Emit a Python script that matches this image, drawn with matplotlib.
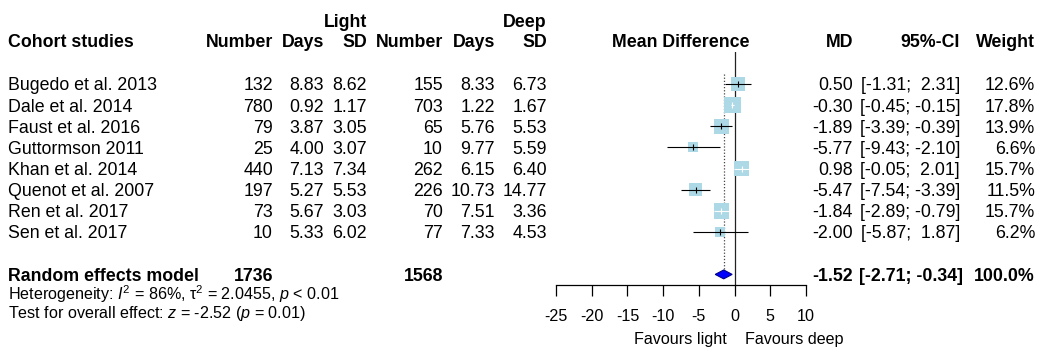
import matplotlib
matplotlib.use("Agg")
import matplotlib.pyplot as plt
import numpy as np

plt.rcParams['font.family'] = ['Liberation Sans', 'DejaVu Sans']
plt.rcParams['mathtext.fontset'] = 'custom'
plt.rcParams['mathtext.rm'] = 'Liberation Sans'
plt.rcParams['mathtext.it'] = 'Liberation Sans:italic'
plt.rcParams['mathtext.bf'] = 'Liberation Sans:bold'

# ---------------- data ----------------
studies = ["Bugedo et al. 2013", "Dale et al. 2014", "Faust et al. 2016", "Guttormson 2011",
           "Khan et al. 2014", "Quenot et al. 2007", "Ren et al. 2017", "Sen et al. 2017"]
light_n = [132, 780, 79, 25, 440, 197, 73, 10]
light_days = [8.83, 0.92, 3.87, 4.00, 7.13, 5.27, 5.67, 5.33]
light_sd = [8.62, 1.17, 3.05, 3.07, 7.34, 5.53, 3.03, 6.02]
deep_n = [155, 703, 65, 10, 262, 226, 70, 77]
deep_days = [8.33, 1.22, 5.76, 9.77, 6.15, 10.73, 7.51, 7.33]
deep_sd = [6.73, 1.67, 5.53, 5.59, 6.40, 14.77, 3.36, 4.53]
md = [0.50, -0.30, -1.89, -5.77, 0.98, -5.47, -1.84, -2.00]
ci_lo = [-1.31, -0.45, -3.39, -9.43, -0.05, -7.54, -2.89, -5.87]
ci_hi = [2.31, -0.15, -0.39, -2.10, 2.01, -3.39, -0.79, 1.87]
weight = [12.6, 17.8, 13.9, 6.6, 15.7, 11.5, 15.7, 6.2]
total_light = 1736
total_deep = 1568
re_md = -1.52
re_lo = -2.71
re_hi = -0.34
re_weight = "100.0%"
x_ticks = [-25, -20, -15, -10, -5, 0, 5, 10]
heterogeneity = r"Heterogeneity: $I^2$ = 86%, τ$^2$ = 2.0455, $p$ < 0.01"
overall = r"Test for overall effect: $z$ = -2.52 ($p$ = 0.01)"

# ---------------- layout ----------------
W, H = 1039, 347
fig = plt.figure(figsize=(W / 100, H / 100), dpi=100)
FS = 12.8
FS2 = 11.6

def T(x, y, s, ha='left', bold=False, size=FS):
    # y is the baseline position in pixels from the top
    fig.text(x / W, 1 - y / H, s, ha=ha, va='baseline', fontsize=size,
             fontweight='bold' if bold else 'normal', color='black')

row0, dy = 84.0, 21.14
def rowy(i):
    return row0 + dy * i
BL = 6.4  # baseline offset from row centre

# headers
T(367, 27, "Light", ha='right', bold=True)
T(547, 27, "Deep", ha='right', bold=True)
hy = 47
T(8, hy, "Cohort studies", bold=True)
T(273, hy, "Number", ha='right', bold=True)
T(324, hy, "Days", ha='right', bold=True)
T(367, hy, "SD", ha='right', bold=True)
T(443, hy, "Number", ha='right', bold=True)
T(495, hy, "Days", ha='right', bold=True)
T(547, hy, "SD", ha='right', bold=True)
T(681, hy, "Mean Difference", ha='center', bold=True)
T(853, hy, "MD", ha='right', bold=True)
T(960, hy, "95%-CI", ha='right', bold=True)
T(1035, hy, "Weight", ha='right', bold=True)

def ci_str(lo, hi):
    return "[" + f"{lo:5.2f}" + "; " + f"{hi:5.2f}" + "]"

for i, name in enumerate(studies):
    y = rowy(i) + BL
    T(8, y, name)
    T(273, y, f"{light_n[i]}", ha='right')
    T(324, y, f"{light_days[i]:.2f}", ha='right')
    T(367, y, f"{light_sd[i]:.2f}", ha='right')
    T(443, y, f"{deep_n[i]}", ha='right')
    T(495, y, f"{deep_days[i]:.2f}", ha='right')
    T(547, y, f"{deep_sd[i]:.2f}", ha='right')
    T(853, y, f"{md[i]:.2f}", ha='right')
    T(960, y, ci_str(ci_lo[i], ci_hi[i]), ha='right')
    T(1035, y, f"{weight[i]:.1f}%", ha='right')

sy = rowy(9) + BL
T(8, sy, "Random effects model", bold=True)
T(273, sy, f"{total_light}", ha='right', bold=True)
T(443, sy, f"{total_deep}", ha='right', bold=True)
T(853, sy, f"{re_md:.2f}", ha='right', bold=True)
T(963, sy, ci_str(re_lo, re_hi), ha='right', bold=True)
T(1035, sy, re_weight, ha='right', bold=True)
T(8, 300, heterogeneity, size=FS2)
T(8, 318, overall, size=FS2)

# ---------------- forest axes ----------------
ax_l, ax_r = 556, 806
ax_top, ax_bot = 52, 285
ax = fig.add_axes([ax_l / W, 1 - ax_bot / H, (ax_r - ax_l) / W, (ax_bot - ax_top) / H])
ax.set_xlim(-25, 10)
ax.set_ylim(9.5, -1.5)
ax.patch.set_visible(False)
for s in ['top', 'left', 'right']:
    ax.spines[s].set_visible(False)
ax.spines['bottom'].set_linewidth(0.9)
ax.set_yticks([])
ax.set_xticks(x_ticks)
ax.set_xticklabels([str(t) for t in x_ticks], fontsize=FS2)
ax.tick_params(axis='x', direction='out', length=8, width=0.9, pad=9)

px_per_unit = (ax_r - ax_l) / 35.0
ax.axvline(0, color='#222222', lw=0.9, zorder=1)
ax.plot([re_md, re_md], [-0.45, 8.75], ls=(0, (1, 1.5)), color='#444444', lw=0.9, zorder=1)

for i in range(len(studies)):
    side = 4.0 * np.sqrt(weight[i])  # px
    ax.scatter([md[i]], [i], marker='s', s=(side * 0.72) ** 2, color='#ADD8E6',
               edgecolors='none', zorder=2)
    ci_px = (ci_hi[i] - ci_lo[i]) * px_per_unit
    col = 'white' if ci_px <= side + 0.5 else 'black'
    ax.plot([ci_lo[i], ci_hi[i]], [i, i], color=col, lw=0.8, zorder=3,
            solid_capstyle='butt')
    ax.plot([md[i]], [i], marker='|', markersize=4.5, mew=0.8, color=col, zorder=3)

h = 0.21
ax.fill([re_lo, re_md, re_hi, re_md], [9, 9 - h, 9, 9 + h], facecolor='#0000FF',
        edgecolor='#00008B', lw=0.8, zorder=4, clip_on=False)

T(727, 344, "Favours light", ha='right', size=FS2)
T(745, 344, "Favours deep", ha='left', size=FS2)

fig.savefig("out.png", dpi=100)
